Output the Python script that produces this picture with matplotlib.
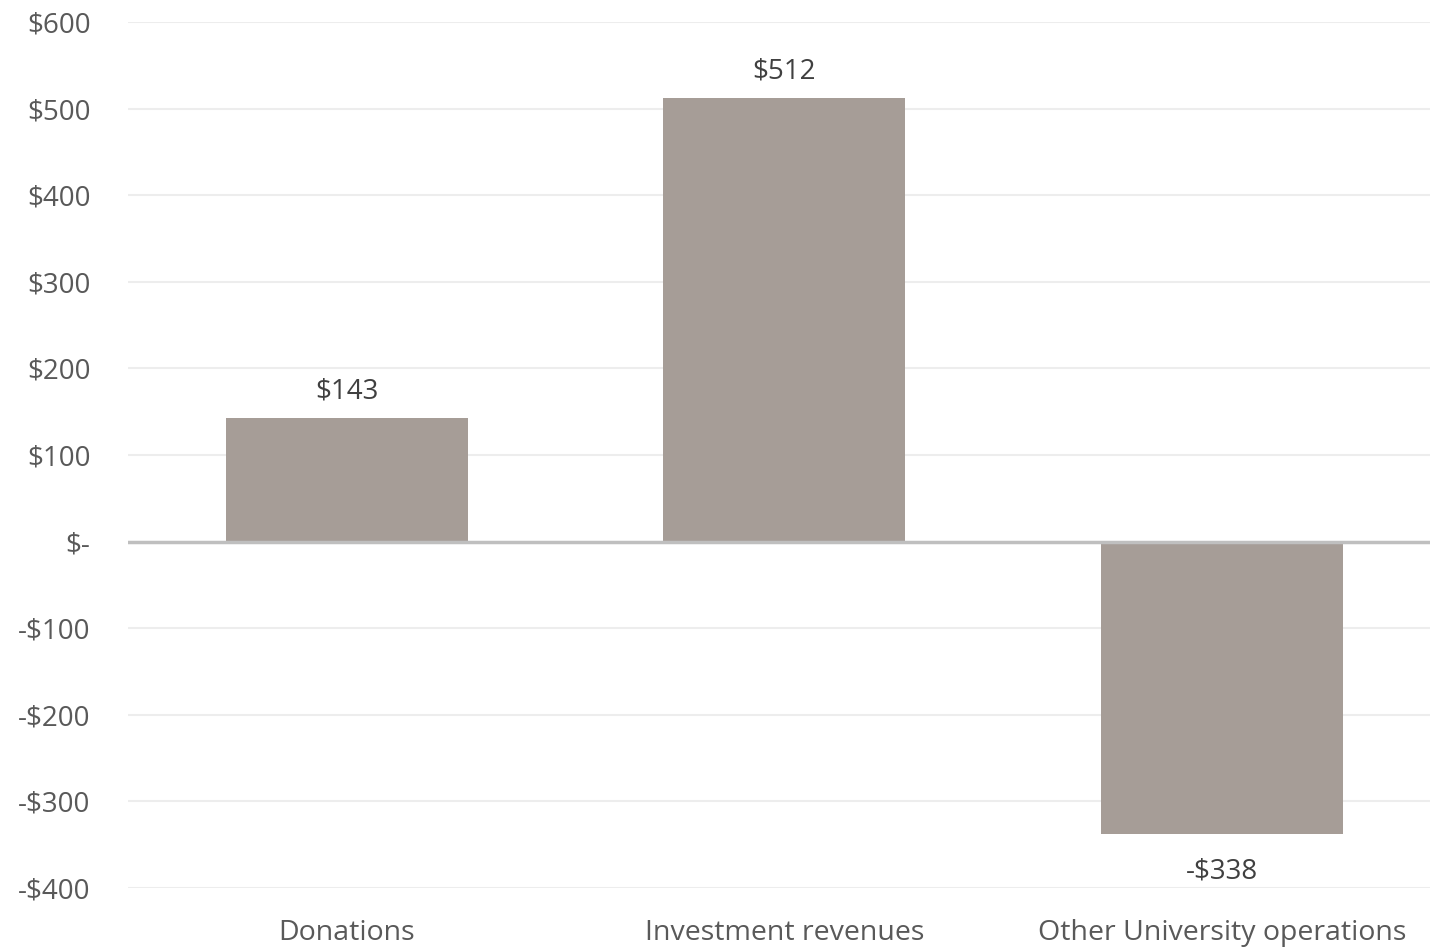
import matplotlib.pyplot as plt

categories = ['Donations', 'Investment revenues', 'Other University operations']
values = [143, 512, -338]
y_ticks = [-400, -300, -200, -100, 0, 100, 200, 300, 400, 500, 600]


def money(v):
    if v == 0:
        return '$-'
    if v < 0:
        return f'-${-v}'
    return f'${v}'


plt.rcParams['font.family'] = ['Open Sans', 'DejaVu Sans']

fig = plt.figure(figsize=(14.3, 9.47), dpi=100)
ax = fig.add_axes([128 / 1430, 59 / 947, 1312.5 / 1430, 866 / 947])

x = list(range(len(categories)))
bars = ax.bar(x, values, width=0.553, color='#A69D97', zorder=2)

# 막대 위/아래 값 표시
for xi, v in zip(x, values):
    if v >= 0:
        ax.annotate(money(v), (xi, v), xytext=(0, 9), textcoords='offset points',
                    ha='center', va='bottom', fontsize=20, color='#404040')
    else:
        ax.annotate(money(v), (xi, v), xytext=(0, -17), textcoords='offset points',
                    ha='center', va='top', fontsize=20, color='#404040')

ax.set_xlim(-0.5, 2.5)
ax.set_ylim(-400, 600)
ax.set_yticks(y_ticks)
ax.set_yticklabels([money(t) for t in y_ticks])
ax.set_xticks(x)
ax.set_xticklabels(categories)
ax.tick_params(axis='y', length=0, pad=27, labelsize=20, labelcolor='#595959')
ax.tick_params(axis='x', length=0, pad=22, labelsize=20.5, labelcolor='#595959')

ax.grid(axis='y', color='#EDEDED', linewidth=1.5, zorder=0)
ax.axhline(0, color='#BFBFBF', linewidth=2.5, zorder=3)
for s in ax.spines.values():
    s.set_visible(False)

plt.savefig('out.png', dpi=100)
